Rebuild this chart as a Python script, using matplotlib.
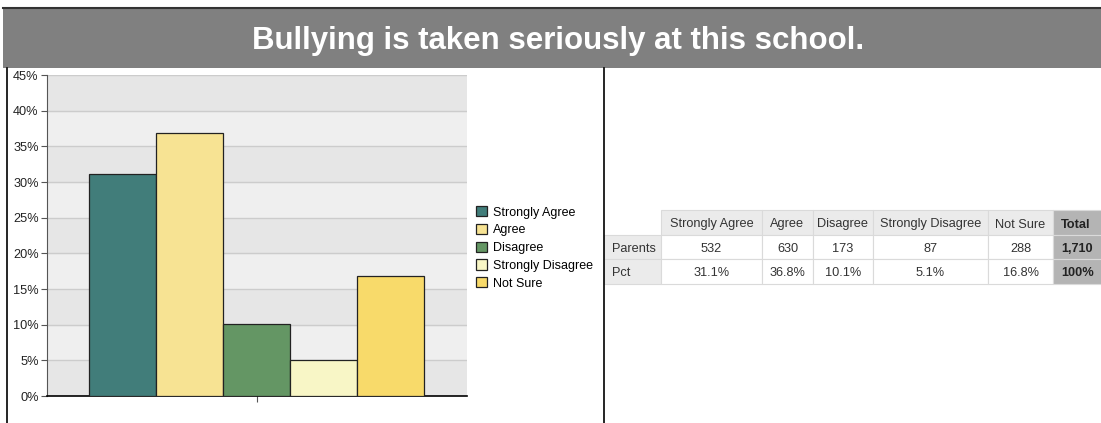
import matplotlib.pyplot as plt
import numpy as np
from matplotlib.patches import Rectangle

plt.rcParams['font.family'] = ['Liberation Sans', 'DejaVu Sans']

# Survey data
title = 'Bullying is taken seriously at this school.'
answers = ['Strongly Agree', 'Agree', 'Disagree', 'Strongly Disagree', 'Not Sure']
parents = [532, 630, 173, 87, 288]
pct = [31.1, 36.8, 10.1, 5.1, 16.8]
total_count = '1,710'
total_pct = '100%'
colors = ['#417d7a', '#f7e393', '#649664', '#f8f6c6', '#f8da6a']
yticks = [0, 5, 10, 15, 20, 25, 30, 35, 40, 45]

W, H = 1101, 423
fig = plt.figure(figsize=(W / 100, H / 100), dpi=100)

# overlay in pixel coordinates for title band, borders and the table
ov = fig.add_axes([0, 0, 1, 1])
ov.set_xlim(0, W)
ov.set_ylim(H, 0)
ov.axis('off')

ov.add_patch(Rectangle((3, 8), W, 60, facecolor='#808080', edgecolor='none'))
ov.plot([3, W], [8, 8], color='#333333', lw=1.5)
ov.text(558, 37, title, color='white', fontsize=22.5, fontweight='bold',
        ha='center', va='center_baseline')
ov.plot([7, 7], [68, H], color='black', lw=1.2)
ov.plot([603.5, 603.5], [68, H], color='black', lw=1.2)

# table
fs = 9.2
col_edges = [604, 661, 762, 813, 873, 988, 1053, 1110]
row_edges = [210, 235, 259, 284]
header = [''] + answers + ['Total']
rows = [['Parents'] + [str(v) for v in parents] + [total_count],
        ['Pct'] + ['%.1f%%' % v for v in pct] + [total_pct]]
grid = '#dadada'
for j in range(len(header)):
    x0, x1 = col_edges[j], col_edges[j + 1]
    for i in range(3):
        y0, y1 = row_edges[i], row_edges[i + 1]
        if i == 0 and j == 0:
            continue
        if j == len(header) - 1:
            fc = '#b4b4b4'
        elif i == 0 or j == 0:
            fc = '#ebebeb'
        else:
            fc = 'white'
        ov.add_patch(Rectangle((x0, y0), x1 - x0, y1 - y0, facecolor=fc,
                               edgecolor=grid, lw=0.8))
        if i == 0:
            txt = header[j]
        else:
            txt = rows[i - 1][j]
        ym = (y0 + y1) / 2 + 0.5
        if j == 0:
            ov.text(x0 + 8, ym, txt, fontsize=fs, ha='left',
                    va='center_baseline', color='#333333')
        elif j == len(header) - 1:
            ov.text(x0 + 8, ym, txt, fontsize=fs, ha='left',
                    va='center_baseline', color='#222222', fontweight='bold')
        else:
            ov.text((x0 + x1) / 2, ym, txt, fontsize=fs,
                    ha='center', va='center_baseline', color='#333333')

# bar chart
left, right, top, bottom = 47, 467, 75, 396
ax = fig.add_axes([left / W, (H - bottom) / H, (right - left) / W, (bottom - top) / H])
x = np.arange(len(answers))
ax.set_xlim(-1.127, 5.14)
ax.set_ylim(0, 45)
for k in range(0, 45, 5):
    ax.axhspan(k, k + 5, color='#e6e6e6' if (k // 5) % 2 == 0 else '#efefef', zorder=0)
for k in yticks[1:]:
    ax.axhline(k, color='#cccccc', lw=1, zorder=1)
ax.bar(x, pct, width=1, color=colors, edgecolor='#222222', lw=0.9, zorder=3,
       label=answers)
ax.set_yticks(yticks)
ax.set_yticklabels(['%d%%' % v for v in yticks], fontsize=fs, color='#222222')
ax.set_xticks([2])
ax.set_xticklabels([''])
ax.tick_params(axis='y', length=4, color='#555555', pad=2)
ax.tick_params(axis='x', length=4, color='#555555')
ax.spines['top'].set_visible(False)
ax.spines['right'].set_visible(False)
ax.spines['left'].set_color('#555555')
ax.spines['bottom'].set_color('black')
ax.spines['bottom'].set_linewidth(1.2)

handles = [Rectangle((0, 0), 1, 1, facecolor=c, edgecolor='#222222', lw=0.9)
           for c in colors]
fig.legend(handles, answers, loc='upper left', bbox_to_anchor=(476 / W, 1 - 206 / H),
           frameon=False, fontsize=9, handlelength=0.85, handleheight=0.9,
           handletextpad=0.5, labelspacing=0.42, borderpad=0, borderaxespad=0)

fig.savefig('out.png', dpi=100)
